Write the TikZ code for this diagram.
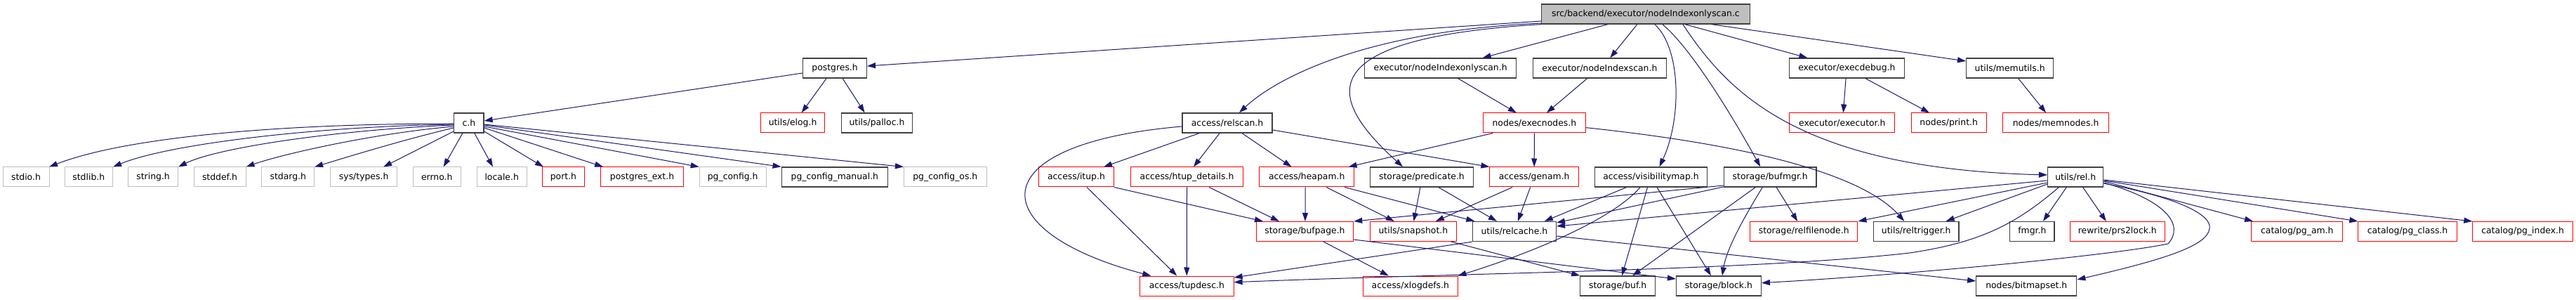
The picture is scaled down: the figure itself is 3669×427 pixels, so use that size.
\documentclass[tikz,border=0pt]{standalone}
\usepackage{fontspec}
\setmainfont{DejaVu Sans}
\usetikzlibrary{arrows.meta}
\definecolor{edgec}{HTML}{191970}
\definecolor{grayb}{HTML}{BFBFBF}
\definecolor{darkb}{HTML}{404040}
\tikzset{
  box/.style={draw, line width=1pt, minimum height=28pt, inner sep=0pt, font=\fontsize{12.4}{14}\selectfont},
  bk/.style={box, draw=darkb, line width=1.3pt},
  rd/.style={box, draw=red},
  gy/.style={box, draw=grayb},
  rt/.style={box, draw=darkb, line width=1.3pt, fill=grayb},
  e/.style={draw=edgec, line width=1pt, -{Triangle[length=12pt,width=8pt]}}
}
\begin{document}
\begin{tikzpicture}[x=1pt,y=-1pt]
\useasboundingbox (0,0) rectangle (3669,427);
% row 0
\node[rt, minimum width=296.7pt] (root) at (2343.85,20) {src/backend/executor/nodeIndexonlyscan.c};
% row 1
\node[bk, minimum width=90.7pt] (postgres) at (1189.05,97) {postgres.h};
\node[bk, minimum width=216.3pt] (ioscan) at (2051.65,97) {executor/nodeIndexonlyscan.h};
\node[bk, minimum width=190pt] (iscan) at (2278.3,97) {executor/nodeIndexscan.h};
\node[bk, minimum width=164.1pt] (execdebug) at (2630.35,97) {executor/execdebug.h};
\node[bk, minimum width=124.1pt] (memutils) at (2862.65,97) {utils/memutils.h};
% row 2
\node[bk, minimum width=42.3pt] (c) at (667.85,175) {c.h};
\node[rd, minimum width=90.9pt] (elog) at (1129.05,175) {utils/elog.h};
\node[bk, minimum width=101.3pt] (palloc) at (1248.95,175) {utils/palloc.h};
\node[bk, minimum width=128.1pt] (relscan) at (1748.05,175) {access/relscan.h};
\node[rd, minimum width=146.7pt] (execnodes) at (2185.35,175) {nodes/execnodes.h};
\node[rd, minimum width=150.2pt] (executor) at (2623.8,175) {executor/executor.h};
\node[rd, minimum width=106.7pt] (print) at (2775.65,175) {nodes/print.h};
\node[rd, minimum width=151.5pt] (memnodes) at (2928.05,175) {nodes/memnodes.h};
% row 3
\node[gy, minimum width=66pt] (stdio) at (37,252) {stdio.h};
\node[gy, minimum width=68.4pt] (stdlib) at (126.3,252) {stdlib.h};
\node[gy, minimum width=70.8pt] (string) at (218.1,252) {string.h};
\node[gy, minimum width=74pt] (stddef) at (313,252) {stddef.h};
\node[gy, minimum width=74.7pt] (stdarg) at (410.25,252) {stdarg.h};
\node[gy, minimum width=95.3pt] (systypes) at (518.15,252) {sys/types.h};
\node[gy, minimum width=68.5pt] (errno) at (622.25,252) {errno.h};
\node[gy, minimum width=71.2pt] (locale) at (714.7,252) {locale.h};
\node[rd, minimum width=60.1pt] (port) at (802.45,252) {port.h};
\node[rd, minimum width=117.5pt] (pgext) at (914.55,252) {postgres\_ext.h};
\node[gy, minimum width=94.9pt] (pgconfig) at (1043.65,252) {pg\_config.h};
\node[bk, minimum width=151.3pt] (pgcfgmanual) at (1188.85,252) {pg\_config\_manual.h};
\node[gy, minimum width=117.8pt] (pgcfgos) at (1346.3,252) {pg\_config\_os.h};
\node[rd, minimum width=106.7pt] (itup) at (1532.95,252) {access/itup.h};
\node[rd, minimum width=160.2pt] (htup) at (1690.5,252) {access/htup\_details.h};
\node[rd, minimum width=134.6pt] (heapam) at (1861.2,252) {access/heapam.h};
\node[bk, minimum width=147.1pt] (predicate) at (2024.95,252) {storage/predicate.h};
\node[rd, minimum width=126.5pt] (genam) at (2185.15,252) {access/genam.h};
\node[bk, minimum width=160.3pt] (vismap) at (2351.5,252) {access/visibilitymap.h};
\node[bk, minimum width=131.6pt] (bufmgr) at (2521.2,252) {storage/bufmgr.h};
\node[bk, minimum width=79pt] (rel) at (2956.2,252) {utils/rel.h};
% row 4
\node[rd, minimum width=138.5pt] (bufpage) at (1858.45,329.5) {storage/bufpage.h};
\node[rd, minimum width=123pt] (snapshot) at (2012.9,329.5) {utils/snapshot.h};
\node[bk, minimum width=119.1pt] (relcache) at (2156.85,329.5) {utils/relcache.h};
\node[rd, minimum width=153.5pt] (relfilenode) at (2569.2,329.5) {storage/relfilenode.h};
\node[bk, minimum width=121.4pt] (reltrigger) at (2729.2,329.5) {utils/reltrigger.h};
\node[bk, minimum width=63.3pt] (fmgr) at (2894.35,329.5) {fmgr.h};
\node[rd, minimum width=135pt] (prs2lock) at (3015.8,329.5) {rewrite/prs2lock.h};
\node[rd, minimum width=129.7pt] (pgam) at (3271.75,329.5) {catalog/pg\_am.h};
\node[rd, minimum width=140.3pt] (pgclass) at (3428.95,329.5) {catalog/pg\_class.h};
\node[rd, minimum width=142.5pt] (pgindex) at (3593.05,329.5) {catalog/pg\_index.h};
% row 5
\node[rd, minimum width=133.6pt] (tupdesc) at (1690.3,407) {access/tupdesc.h};
\node[rd, minimum width=134.4pt] (xlogdefs) at (2008.8,407) {access/xlogdefs.h};
\node[bk, minimum width=106.7pt] (buf) at (2304.15,407) {storage/buf.h};
\node[bk, minimum width=120.7pt] (block) at (2447.9,407) {storage/block.h};
\node[bk, minimum width=142.9pt] (bitmapset) at (2886.25,407) {nodes/bitmapset.h};

% root edges
\draw[e] ([yshift=-10pt]root.west) -- ([yshift=3pt]postgres.east);
\draw[e] ([yshift=-13pt]root.west) .. controls (1930,45) and (1810,118) .. ([xshift=17pt]relscan.north);
\draw[e] (root.south west) .. controls (1860,55) and (1890,140) .. ([xshift=-27pt]predicate.north);
\draw[e] ([xshift=-54pt]root.south) -- ([xshift=60pt]ioscan.north);
\draw[e] ([xshift=-12pt]root.south) -- ([xshift=15pt]iscan.north);
\draw[e] ([xshift=13pt]root.south) .. controls (2395,70) and (2395,170) .. ([xshift=12pt]vismap.north);
\draw[e] ([xshift=24pt]root.south) .. controls (2410,70) and (2470,170) .. ([xshift=-14pt]bufmgr.north);
\draw[e] ([xshift=53pt]root.south) .. controls (2460,130) and (2560,240) .. ([yshift=3pt]rel.west);
\draw[e] ([xshift=56pt]root.south) -- ([xshift=-56pt]execdebug.north);
\draw[e] ([xshift=94pt]root.south) -- ([yshift=10pt]memutils.west);
% postgres.h
\draw[e] ([yshift=-7pt]postgres.west) -- ([yshift=3pt]c.east);
\draw[e] ([xshift=-12pt]postgres.south) -- ([xshift=12.6pt]elog.north);
\draw[e] ([xshift=11pt]postgres.south) -- ([xshift=-17.4pt]palloc.north);
% c.h
\draw[e] ([yshift=-1pt]c.west) .. controls (400,176) and (180,195) .. ([xshift=33pt]stdio.north);
\draw[e] ([yshift=-2pt]c.west) .. controls (450,180) and (240,205) .. (stdlib.north east);
\draw[e] ([yshift=-3pt]c.west) .. controls (480,185) and (310,210) .. (string.north east);
\draw[e] ([yshift=-5pt]c.west) .. controls (530,190) and (400,220) .. (stddef.north east);
\draw[e] ([yshift=-7pt]c.west) .. controls (570,200) and (490,225) .. (stdarg.north east);
\draw[e] ([yshift=-12pt]c.west) -- ([xshift=28pt]systypes.north);
\draw[e] ([xshift=-9pt]c.south) -- ([xshift=9.4pt]errno.north);
\draw[e] ([xshift=8pt]c.south) -- ([xshift=-12.7pt]locale.north);
\draw[e] ([yshift=-12pt]c.east) -- ([xshift=-28.5pt]port.north);
\draw[e] ([yshift=-7pt]c.east) -- ([xshift=-55.5pt]pgext.north);
\draw[e] ([yshift=-5pt]c.east) -- (pgconfig.north west);
\draw[e] ([yshift=-3pt]c.east) -- (pgcfgmanual.north west);
\draw[e] ([yshift=-2pt]c.east) -- (pgcfgos.north west);
% relscan
\draw[e] ([yshift=-5pt]relscan.west) .. controls (1390,205) and (1400,330) .. ([xshift=-51pt]tupdesc.north);
\draw[e] ([xshift=-40pt]relscan.south) -- ([xshift=39pt]itup.north);
\draw[e] ([xshift=-11pt]relscan.south) -- ([xshift=9.5pt]htup.north);
\draw[e] ([xshift=21pt]relscan.south) -- ([xshift=-21.7pt]heapam.north);
\draw[e] ([yshift=-10pt]relscan.east) -- (genam.north west);
% itup, htup_details
\draw[e] ([xshift=15pt]itup.south) -- ([xshift=-14pt]tupdesc.north);
\draw[e] (itup.south east) -- ([xshift=-59.5pt]bufpage.north);
\draw[e] (htup.south) -- (tupdesc.north);
\draw[e] ([xshift=31.5pt]htup.south) -- ([xshift=-36.5pt]bufpage.north);
% heapam
\draw[e] ([xshift=-2pt]heapam.south) -- ([xshift=0.5pt]bufpage.north);
\draw[e] ([xshift=28pt]heapam.south) -- ([xshift=-27pt]snapshot.north);
\draw[e] ([xshift=54pt]heapam.south) -- ([xshift=-56.5pt]relcache.north);
% execnodes
\draw[e] ([xshift=-59pt]execnodes.south) -- ([xshift=59.4pt]heapam.north);
\draw[e] (execnodes.south) -- (genam.north);
\draw[e] ([yshift=-6.7pt]execnodes.east) .. controls (2480,205) and (2650,245) .. ([xshift=-17pt]reltrigger.north);
% nodeIndex*scan.h
\draw[e] ([xshift=25pt]ioscan.south) -- ([xshift=-25.5pt]execnodes.north);
\draw[e] ([xshift=-17.7pt]iscan.south) -- ([xshift=17.6pt]execnodes.north);
% predicate, genam
\draw[e] ([xshift=-2pt]predicate.south) -- ([xshift=0.6pt]snapshot.north);
\draw[e] ([xshift=24pt]predicate.south) -- ([xshift=-25pt]relcache.north);
\draw[e] ([xshift=-31pt]genam.south) -- ([xshift=32pt]snapshot.north);
\draw[e] ([xshift=-5.5pt]genam.south) -- ([xshift=5pt]relcache.north);
% visibilitymap
\draw[e] ([xshift=-35pt]vismap.south) -- ([xshift=43pt]relcache.north);
\draw[e] ([xshift=-15.5pt]vismap.south) .. controls (2290,320) and (2150,370) .. (xlogdefs.north east);
\draw[e] ([xshift=-5pt]vismap.south) -- ([xshift=6pt]buf.north);
\draw[e] ([xshift=8.5pt]vismap.south) -- ([xshift=-11pt]block.north);
% bufmgr
\draw[e] ([yshift=-12pt]bufmgr.west) -- (bufpage.north east);
\draw[e] ([yshift=-14pt]bufmgr.west) -- ([yshift=12.5pt]relcache.east);
\draw[e] ([xshift=-21pt]bufmgr.south) -- ([xshift=21pt]buf.north);
\draw[e] ([xshift=-11pt]bufmgr.south) .. controls (2490,300) and (2460,350) .. ([xshift=5pt]block.north);
\draw[e] ([xshift=9pt]bufmgr.south) -- ([xshift=-9pt]relfilenode.north);
% rel.h
\draw[e] ([yshift=-5pt]rel.west) -- ([yshift=7.5pt]relcache.east);
\draw[e] ([yshift=-8pt]rel.west) -- (relfilenode.north east);
\draw[e] ([yshift=-10pt]rel.west) -- ([xshift=42.5pt]reltrigger.north);
\draw[e] ([xshift=-24pt]rel.south) .. controls (2870,320) and (2820,345) .. (2720,360) .. controls (2500,385) and (2100,388) .. ([yshift=5.3pt]tupdesc.east);
\draw[e] ([xshift=-13pt]rel.south) -- ([xshift=15.6pt]fmgr.north);
\draw[e] ([xshift=10.5pt]rel.south) -- ([xshift=-16pt]prs2lock.north);
\draw[e] ([yshift=-6pt]rel.east) -- ([xshift=-62.7pt]pgam.north);
\draw[e] ([yshift=-5pt]rel.east) -- (pgclass.north west);
\draw[e] ([yshift=-4pt]rel.east) -- (pgindex.north west);
\draw[e] ([yshift=-8pt]rel.east) .. controls (3085,285) and (3112,320) .. (3088,347) .. controls (3000,365) and (2700,392) .. ([yshift=4.3pt]block.east);
\draw[e] ([yshift=-9pt]rel.east) .. controls (3120,285) and (3150,310) .. (3147,325) .. controls (3145,350) and (3080,370) .. ([yshift=9pt]bitmapset.east);
% relcache, snapshot, bufpage
\draw[e] (relcache.south west) -- ([yshift=12pt]tupdesc.east);
\draw[e] ([yshift=-6.5pt]relcache.east) -- ([yshift=7pt]bitmapset.west);
\draw[e] ([xshift=54pt]snapshot.south) -- (buf.north west);
\draw[e] ([xshift=26.5pt]bufpage.south) -- ([xshift=-31pt]xlogdefs.north);
\draw[e] ([yshift=-11.5pt]bufpage.east) -- ([yshift=10pt]block.west);
% execdebug, memutils
\draw[e] ([xshift=-1.3pt]execdebug.south) -- ([xshift=1.6pt]executor.north);
\draw[e] ([xshift=26.6pt]execdebug.south) -- ([xshift=-27.6pt]print.north);
\draw[e] ([xshift=12pt]memutils.south) -- ([xshift=-14pt]memnodes.north);
\end{tikzpicture}
\end{document}
